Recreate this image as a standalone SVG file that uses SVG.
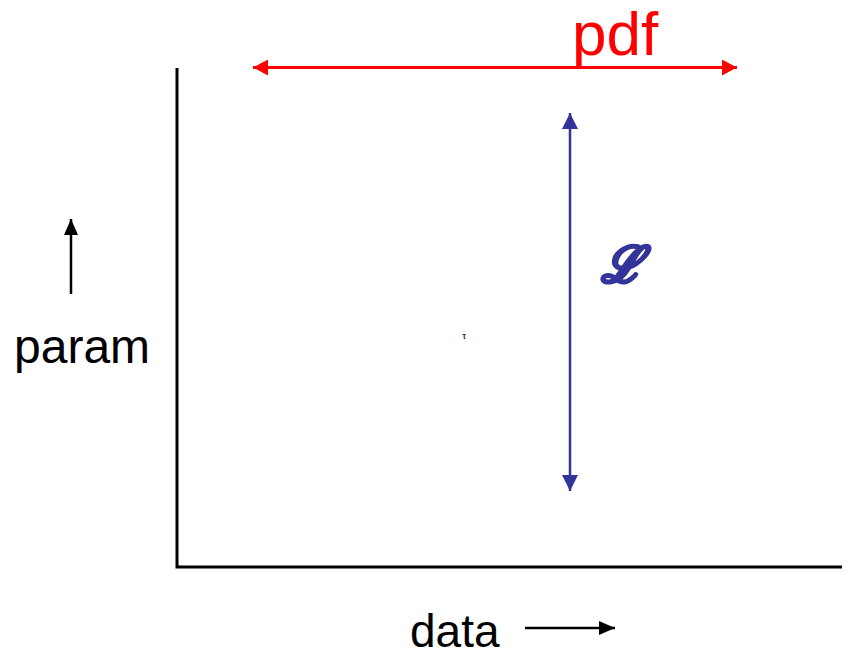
<svg xmlns="http://www.w3.org/2000/svg" width="849" height="658" viewBox="0 0 849 658">
<style>
  .lbl { font-family: "Liberation Sans", Arial, sans-serif; }
  .axis { stroke: #000; stroke-width: 3; fill: none; }
</style>
<defs>
  <marker id="redHead" markerWidth="16" markerHeight="16" refX="15" refY="8" orient="auto-start-reverse" markerUnits="userSpaceOnUse">
    <path d="M0,0 L15,8 L0,16 Z" fill="#ff0000"/>
  </marker>
  <marker id="blueHead" markerWidth="17" markerHeight="18" refX="16" refY="8" orient="auto-start-reverse" markerUnits="userSpaceOnUse">
    <path d="M0,0 L16,8 L0,16 Z" fill="#333399"/>
  </marker>
  <marker id="blackHead" markerWidth="17" markerHeight="16" refX="16" refY="7" orient="auto" markerUnits="userSpaceOnUse">
    <path d="M0,0 L16,7 L0,14 Z" fill="#000"/>
  </marker>
</defs>
<rect width="849" height="658" fill="#fff"/>
<g id="axes">
  <polyline class="axis" points="177,68 177,567 842,567"/>
</g>
<g id="connectors">
  <line x1="253" y1="67.5" x2="737" y2="67.5" stroke="#ff0000" stroke-width="3" marker-start="url(#redHead)" marker-end="url(#redHead)"/>
  <line x1="570" y1="113" x2="570" y2="491" stroke="#333399" stroke-width="2.5" marker-start="url(#blueHead)" marker-end="url(#blueHead)"/>
  <line x1="71" y1="294" x2="71" y2="219" stroke="#000" stroke-width="2.5" marker-end="url(#blackHead)"/>
  <line x1="525" y1="628" x2="615" y2="628" stroke="#000" stroke-width="2.5" marker-end="url(#blackHead)"/>
</g>
<g id="pdf-label">
  <text class="lbl" x="572" y="55" font-size="62" fill="#ff0000">pdf</text>
</g>
<g id="L-label">
  <text x="601" y="282" font-family="'DejaVu Serif', serif" font-size="50" font-weight="bold" font-style="italic" fill="#333399" stroke="#333399" stroke-width="2.5" stroke-linejoin="round">ℒ</text>
</g>
<g id="param-label">
  <text class="lbl" x="14" y="363" font-size="48" fill="#000">param</text>
</g>
<g id="data-label">
  <text class="lbl" x="410" y="647" font-size="46" fill="#000">data</text>
</g>
<g id="tau-label">
  <text x="462" y="339" font-family="'Liberation Serif', serif" font-size="11" fill="#000">τ</text>
</g>
</svg>
